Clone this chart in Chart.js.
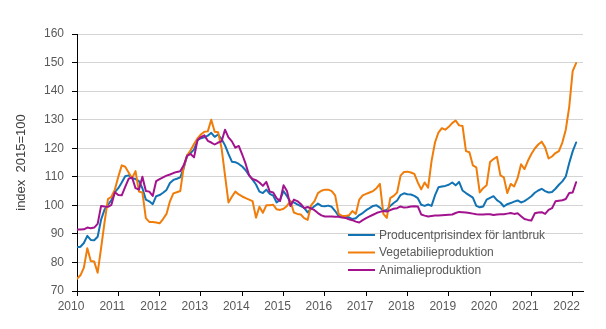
<!DOCTYPE html>
<html>
<head>
<meta charset="utf-8">
<script src="https://cdn.jsdelivr.net/npm/chart.js@4.4.1/dist/chart.umd.min.js"></script>
<style>
  html, body { margin: 0; padding: 0; background: #fff; }
  #chart { display: block; }
</style>
</head>
<body>
<canvas id="chart" width="606" height="329"></canvas>
<script>
// Monthly index values, Jan 2010 .. Feb 2022 (2015=100), one row per year
const yearLabels = ['2010', '2011', '2012', '2013', '2014', '2015', '2016', '2017', '2018', '2019', '2020', '2021', '2022'];

const ppi = [
    85.3, 85.5, 86.8, 89.3, 87.9, 87.8, 89.0, 95.0, 98.5, 100.2, 101.8, 104.6,
    106.0, 108.0, 110.2, 110.5, 109.5, 109.2, 108.5, 106.0, 102.0, 101.4, 100.4, 103.2,
    103.6, 104.4, 105.4, 107.8, 108.9, 109.3, 109.8, 113.0, 117.5, 118.3, 119.5, 122.8,
    123.5, 123.8, 124.4, 125.4, 124.0, 124.8, 123.2, 121.0, 118.0, 115.3, 115.1, 114.5,
    113.6, 112.3, 110.5, 109.0, 107.3, 104.8, 104.3, 105.5, 104.0, 103.4, 101.0, 102.0,
    105.0, 103.2, 101.3, 101.0, 100.3, 99.7, 99.1, 97.5, 98.8, 99.7, 100.6, 99.8,
    99.7, 99.9, 99.5, 98.0, 96.3, 96.0, 96.0, 95.8, 95.2, 95.5, 96.6, 97.3,
    98.3, 99.0, 99.8, 100.0, 99.2, 98.1, 98.4, 99.8, 100.8, 101.7, 103.6, 104.2,
    103.9, 103.8, 103.3, 102.5, 100.2, 99.8, 100.3, 99.8, 103.5, 106.3, 106.6, 106.8,
    107.2, 108.0, 107.0, 108.2, 105.2, 104.3, 103.5, 102.7, 99.8, 99.3, 99.6, 102.0,
    102.6, 103.2, 101.8, 101.0, 99.6, 100.4, 100.8, 101.3, 101.7, 101.0, 101.5, 102.3,
    103.2, 104.4, 105.2, 105.8, 105.0, 104.5, 104.7, 105.8, 107.2, 108.4, 110.1, 114.8,
    118.9, 122.0
];

const vegetable = [
    74.3, 75.5, 78.2, 85.0, 80.5, 80.3, 76.4, 85.0, 94.0, 102.2, 103.0, 105.5,
    110.0, 114.0, 113.5, 111.5, 109.5, 112.0, 104.8, 104.5, 95.5, 94.2, 94.2, 94.0,
    93.7, 95.2, 97.0, 101.4, 104.2, 104.6, 105.0, 113.5, 117.5, 119.3, 121.5, 123.4,
    124.8, 125.8, 125.9, 130.0, 125.8, 125.6, 120.0, 110.5, 101.0, 103.0, 104.8, 103.8,
    103.1, 102.5, 102.0, 101.5, 95.7, 99.5, 97.4, 100.0, 100.0, 100.2, 98.6, 98.4,
    98.8, 99.8, 101.5, 97.5, 97.0, 96.8, 95.5, 94.9, 100.0, 101.5, 104.3, 105.1,
    105.5, 105.5, 105.0, 103.5, 97.0, 96.3, 96.3, 96.5, 98.0, 97.0, 102.0, 103.5,
    104.0, 104.5, 105.0, 106.0, 107.5, 97.0, 95.6, 102.5, 103.3, 104.5, 110.4, 111.7,
    111.8, 111.5, 111.0, 108.0, 105.6, 108.0, 106.2, 115.5, 122.0, 125.5, 127.0, 126.5,
    127.5, 128.8, 129.7, 128.0, 127.8, 119.0, 118.6, 114.0, 113.3, 104.5, 106.0, 107.0,
    115.2, 116.2, 117.0, 110.5, 109.8, 104.3, 107.5, 106.6, 109.5, 114.4, 112.7, 115.6,
    118.0, 119.9, 121.3, 122.3, 120.3, 116.4, 117.1, 118.3, 119.0, 122.0, 126.5, 134.5,
    147.0, 149.8
];

const animal = [
    91.5, 91.5, 91.6, 92.2, 92.0, 92.2, 93.5, 99.8, 99.6, 99.5, 100.2, 104.6,
    103.6, 103.5, 106.5, 109.3, 109.8, 106.0, 105.5, 110.0, 105.0, 104.8, 103.3, 108.5,
    109.2, 109.8, 110.4, 110.8, 111.3, 111.7, 111.9, 114.0, 117.3, 118.0, 116.8, 122.8,
    123.9, 124.5, 122.6, 122.0, 121.3, 122.0, 122.4, 126.5, 123.8, 122.4, 120.2, 120.8,
    117.8, 114.5, 110.5, 109.2, 108.8, 108.0, 106.8, 108.2, 104.8, 104.5, 102.5, 101.5,
    107.0, 105.0, 99.8, 102.0, 101.5, 100.5, 99.0, 99.4, 98.9, 98.3, 97.3, 96.5,
    96.1, 96.1, 96.1, 96.0, 96.0, 95.7, 95.6, 95.1, 94.8, 94.3, 94.0, 94.8,
    95.5, 96.1, 96.7, 97.3, 97.7, 98.0, 97.8, 98.3, 98.8, 99.0, 99.6, 99.2,
    99.3, 99.6, 99.7, 99.6, 96.8, 96.4, 96.1, 96.3, 96.4, 96.4, 96.5, 96.6,
    96.7, 96.8, 97.3, 97.7, 97.6, 97.5, 97.3, 97.1, 96.9, 96.8, 96.8, 96.9,
    96.9, 96.6, 96.8, 96.9, 96.9, 97.1, 97.3, 97.0, 97.2, 96.2, 95.2, 94.9,
    94.7, 97.2, 97.5, 97.6, 97.0, 98.4, 99.0, 101.4, 101.6, 101.8, 102.2, 104.3,
    104.5, 108.1
];

const seriesNames = ['Producentprisindex för lantbruk', 'Vegetabilieproduktion', 'Animalieproduktion'];
const seriesColors = ['#1172b4', '#f07c0a', '#a3138e'];

const FONT = '"Liberation Sans", Arial, sans-serif';
const TEXT_GREY = '#595959';

// month index -> point, so the x axis can run on a plain linear month scale
const toPoints = arr => arr.map((v, i) => ({ x: i, y: v }));

// legend sits inside the plot, under the curves
const innerLegend = {
    id: 'innerLegend',
    afterDraw(chart) {
        const ctx = chart.ctx;
        const x0 = 348, y0 = 235, rowH = 17.5;
        ctx.save();
        ctx.font = '12px ' + FONT;
        ctx.textBaseline = 'middle';
        chart.data.datasets.forEach((ds, i) => {
            const y = y0 + i * rowH;
            ctx.strokeStyle = ds.borderColor;
            ctx.lineWidth = 2;
            ctx.beginPath();
            ctx.moveTo(x0, y);
            ctx.lineTo(x0 + 27, y);
            ctx.stroke();
            ctx.fillStyle = TEXT_GREY;
            ctx.fillText(ds.label, x0 + 31, y + 0.5);
        });
        ctx.restore();
    }
};

const lineStyle = {
    borderWidth: 2,
    pointRadius: 0,
    tension: 0,
    fill: false,
    borderJoinStyle: 'round',
    borderCapStyle: 'round'
};

new Chart(document.getElementById('chart'), {
    type: 'line',
    data: {
        datasets: [
            { ...lineStyle, label: seriesNames[0], data: toPoints(ppi), borderColor: seriesColors[0], order: 3 },
            { ...lineStyle, label: seriesNames[1], data: toPoints(vegetable), borderColor: seriesColors[1], order: 2 },
            { ...lineStyle, label: seriesNames[2], data: toPoints(animal), borderColor: seriesColors[2], order: 1 }
        ]
    },
    options: {
        responsive: false,
        animation: false,
        devicePixelRatio: 1,
        layout: { padding: { top: 34, right: 23, bottom: 0, left: 0 } },
        plugins: {
            legend: { display: false },
            tooltip: { enabled: false }
        },
        scales: {
            x: {
                type: 'linear',
                min: 0,
                max: 147,
                afterFit: s => { s.height = 38; },
                grid: { drawOnChartArea: false, tickLength: 5, tickColor: '#000' },
                border: { color: '#000', width: 1 },
                ticks: {
                    stepSize: 12,
                    includeBounds: false,
                    autoSkip: false,
                    maxRotation: 0,
                    padding: 3,
                    labelOffset: -6,
                    color: TEXT_GREY,
                    font: { family: FONT, size: 12 },
                    callback: v => yearLabels[v / 12] || ''
                }
            },
            y: {
                min: 70,
                max: 160,
                afterFit: s => { s.width = 77; },
                grid: { color: '#d4d4d4', lineWidth: 1, tickLength: 5, tickColor: '#000' },
                border: { color: '#000', width: 1 },
                ticks: {
                    stepSize: 10,
                    padding: 8,
                    color: TEXT_GREY,
                    font: { family: FONT, size: 12 }
                },
                title: {
                    display: true,
                    text: 'index  2015=100',
                    color: '#404040',
                    font: { family: FONT, size: 13 },
                    padding: { top: 14, bottom: 0 }
                }
            }
        }
    },
    plugins: [innerLegend]
});
</script>
</body>
</html>
